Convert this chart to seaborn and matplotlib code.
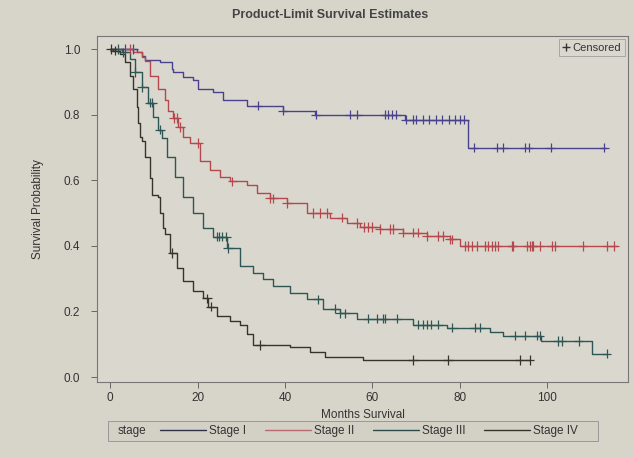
import numpy as np
import pandas as pd
import matplotlib
matplotlib.use("Agg")
import matplotlib.pyplot as plt
from matplotlib.lines import Line2D
from matplotlib.patches import Rectangle
import seaborn as sns

# ---------------- data ----------------
stages = ["Stage I", "Stage II", "Stage III", "Stage IV"]

# step points: time (months) at which the estimate changes, and new estimate
s1_time = [0, 6.2, 7.3, 8.0, 11.4, 14.2, 14.4, 16.7, 19.0, 20.1, 23.5, 25.8, 31.3, 39.5, 46.9, 67.5, 81.8, 113.5]
s1_surv = [1.0, 0.99, 0.98, 0.966, 0.96, 0.94, 0.929, 0.914, 0.905, 0.877, 0.868, 0.846, 0.828, 0.812, 0.80, 0.785, 0.70, 0.70]
s1_cens = [3.5, 5.3, 33.8, 39.5, 47.0, 54.9, 56.5, 62.9, 63.5, 64.5, 65.5, 67.7, 69.2, 70.0, 71.5, 73.0,
           74.5, 76.0, 77.5, 79.0, 80.0, 81.0, 83.2, 88.6, 90.0, 94.9, 95.8, 100.8, 113.1]

s2_time = [0, 5.3, 7.3, 8.0, 9.1, 11.0, 12.6, 13.3, 14.4, 15.5, 16.7, 18.3, 20.6, 22.9, 25.1, 27.4, 31.3,
           33.6, 36.6, 40.5, 45.0, 50.3, 54.2, 57.1, 61.7, 67.0, 72.5, 77.7, 80.0, 115.9]
s2_surv = [1.0, 0.99, 0.975, 0.963, 0.917, 0.877, 0.846, 0.81, 0.79, 0.763, 0.732, 0.714, 0.66, 0.63, 0.61,
           0.597, 0.585, 0.56, 0.545, 0.53, 0.50, 0.486, 0.47, 0.458, 0.452, 0.44, 0.43, 0.42, 0.40, 0.40]
s2_cens = [4.5, 14.6, 15.2, 16.0, 20.2, 28.0, 36.6, 37.3, 40.5, 46.5, 48.1, 49.7, 53.0, 56.5, 58.0, 59.0, 60.0,
           61.7, 64.0, 64.7, 67.0, 69.3, 70.4, 72.5, 75.0, 76.1, 77.7, 78.2, 81.1, 81.8, 82.7, 83.9, 85.7,
           86.4, 87.3, 88.0, 88.7, 91.9, 92.1, 95.5, 96.0, 96.5, 96.7, 98.3, 101.0, 101.7, 108.1, 113.8, 115.4]

s3_time = [0, 2.7, 4.6, 5.7, 7.3, 8.7, 9.8, 11.0, 11.9, 13.0, 14.9, 16.7, 19.0, 21.3, 23.5, 26.7, 29.7, 32.7,
           35.0, 37.3, 41.1, 45.0, 48.7, 52.6, 56.5, 69.3, 77.0, 86.9, 89.8, 98.7, 110.2, 113.6]
s3_surv = [1.0, 0.99, 0.97, 0.93, 0.883, 0.837, 0.794, 0.754, 0.73, 0.67, 0.61, 0.548, 0.50, 0.455, 0.428,
           0.394, 0.338, 0.317, 0.298, 0.277, 0.255, 0.237, 0.209, 0.194, 0.178, 0.16, 0.151, 0.138, 0.126,
           0.11, 0.071, 0.071]
s3_cens = [1.8, 3.0, 5.7, 7.3, 9.1, 9.6, 11.4, 24.5, 25.0, 25.5, 26.5, 27.0, 47.5, 51.4, 52.6, 53.7, 59.0,
           61.0, 62.4, 62.9, 65.6, 70.4, 71.5, 72.5, 73.5, 75.0, 78.2, 83.4, 84.6, 92.6, 94.9, 97.6, 98.3,
           102.4, 103.3, 107.2, 113.6]

s4_time = [0, 0.7, 2.3, 3.4, 4.6, 5.3, 6.2, 6.4, 6.9, 7.3, 8.0, 9.1, 9.6, 11.0, 11.4, 12.1, 12.6, 13.7, 15.3,
           16.7, 19.0, 21.3, 22.4, 24.5, 27.4, 29.7, 31.3, 32.7, 41.1, 45.7, 49.1, 57.8, 96.0]
s4_surv = [1.0, 0.995, 0.985, 0.96, 0.917, 0.877, 0.825, 0.775, 0.732, 0.72, 0.67, 0.606, 0.554, 0.548, 0.50,
           0.455, 0.437, 0.378, 0.332, 0.292, 0.262, 0.24, 0.215, 0.185, 0.17, 0.16, 0.132, 0.098, 0.092,
           0.077, 0.062, 0.052, 0.052]
s4_cens = [0.2, 1.1, 14.2, 22.2, 23.0, 34.3, 69.3, 77.3, 93.7, 96.0]

x_ticks = [0, 20, 40, 60, 80, 100]
y_ticks = [0.0, 0.2, 0.4, 0.6, 0.8, 1.0]

colors = {"Stage I": "#4a418c", "Stage II": "#b5484c", "Stage III": "#2d5654", "Stage IV": "#35352c"}
legend_colors = {"Stage I": "#2f2f45", "Stage II": "#b86a70", "Stage III": "#2f4a4a", "Stage IV": "#35352c"}

# ---------------- build tables ----------------
curves = pd.concat([
    pd.DataFrame({"time": t, "surv": s, "stage": st})
    for t, s, st in zip([s1_time, s2_time, s3_time, s4_time],
                        [s1_surv, s2_surv, s3_surv, s4_surv], stages)
], ignore_index=True)

cens_rows = []
for t, s, c, st in zip([s1_time, s2_time, s3_time, s4_time],
                       [s1_surv, s2_surv, s3_surv, s4_surv],
                       [s1_cens, s2_cens, s3_cens, s4_cens], stages):
    t = np.asarray(t); s = np.asarray(s)
    idx = np.searchsorted(t, np.asarray(c), side="right") - 1
    cens_rows.append(pd.DataFrame({"time": c, "surv": s[idx], "stage": st}))
cens = pd.concat(cens_rows, ignore_index=True)

# ---------------- plot ----------------
sns.set_theme(style="ticks")
plt.rcParams["font.family"] = ["Liberation Sans", "DejaVu Sans"]

W, H = 634, 458
paper = "#d7d5ca"
fig = plt.figure(figsize=(W / 100, H / 100), dpi=100, facecolor=paper)
ax = fig.add_axes([97 / W, 1 - 382 / H, (628 - 97) / W, (382 - 36) / H])
ax.set_facecolor("#dad8ce")

sns.lineplot(data=curves, x="time", y="surv", hue="stage", palette=colors,
             estimator=None, sort=False, drawstyle="steps-post", linewidth=1.0,
             legend=False, ax=ax)
sns.scatterplot(data=cens, x="time", y="surv", hue="stage", palette=colors,
                marker="+", s=45, linewidth=0.9, legend=False, ax=ax, zorder=3)

ax.set_xlim(-3, 118.5)
ax.set_ylim(-0.015, 1.04)
ax.set_xticks(x_ticks)
ax.set_yticks(y_ticks)
ax.set_xticklabels([str(v) for v in x_ticks])
ax.set_yticklabels([f"{v:.1f}" for v in y_ticks])
ax.tick_params(axis="both", labelsize=8.5, colors="#666666", labelcolor="#333333", length=4, width=0.7)
ax.tick_params(axis="x", pad=3)
ax.tick_params(axis="y", pad=8)
for sp in ax.spines.values():
    sp.set_visible(True)
    sp.set_color("#777777")
    sp.set_linewidth(0.8)

ax.set_xlabel("Months Survival", fontsize=8.5, color="#333333", labelpad=4)
ax.set_ylabel("Survival Probability", fontsize=8.5, color="#333333", labelpad=14)
fig.text(0.52, 1 - 15 / H, "Product-Limit Survival Estimates", ha="center", va="center",
         fontsize=9, fontweight="bold", color="#444444")

# censored legend (inside, top-right)
cens_handle = Line2D([], [], linestyle="none", marker="+", color="#333333", markersize=6)
leg1 = ax.legend([cens_handle], ["Censored"], loc="upper right", fontsize=8,
                 frameon=True, handlelength=0.6, handletextpad=0.3, borderpad=0.3,
                 borderaxespad=0.3, fancybox=False, edgecolor="#999999")
leg1.get_frame().set_facecolor("#dad8ce")
leg1.get_frame().set_linewidth(0.7)
for t in leg1.get_texts():
    t.set_color("#333333")

# stage legend (bottom): frame + "stage" label + entries
fig.patches.append(Rectangle((108 / W, 1 - 441 / H), (598 - 108) / W, 20 / H,
                             transform=fig.transFigure, facecolor="#d3d1c6",
                             edgecolor="#999999", linewidth=0.7, zorder=0))
fig.text(118 / W, 1 - 431 / H, "stage", ha="left", va="center", fontsize=8.5, color="#333333")
handles = [Line2D([], [], color=legend_colors[s], linewidth=1.0) for s in stages]
leg2 = fig.legend(handles, stages, loc="center", bbox_to_anchor=(369 / W, 1 - 431 / H), ncol=4,
                  fontsize=8.5, frameon=False, handlelength=3.9, handletextpad=0.25,
                  columnspacing=1.6, borderpad=0.2)
for t in leg2.get_texts():
    t.set_color("#333333")

fig.savefig("out.png", dpi=100, facecolor=paper)
